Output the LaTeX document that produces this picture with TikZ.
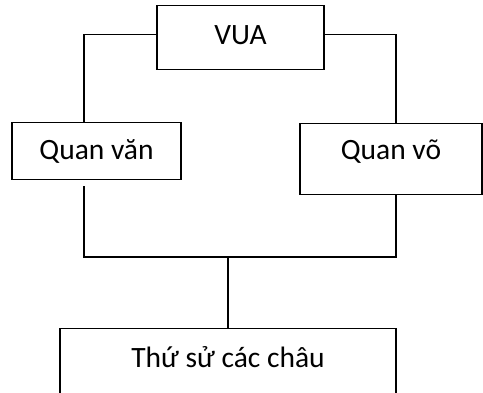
\documentclass[tikz,border=0pt]{standalone}
\usepackage{fontspec}
\setmainfont{Carlito}
\begin{document}
\begin{tikzpicture}[x=1pt,y=-1pt,
  box/.style={draw=black,line width=1.5pt,rectangle,inner xsep=0pt,inner ysep=0pt,anchor=north,
    font=\fontsize{29.5}{35}\selectfont},
  link/.style={draw=black,line width=1.5pt}]
\useasboundingbox (0,0) rectangle (483,393);
\clip (0,0) rectangle (483,393);
\node[box,minimum width=167pt,text height=38.5pt,text depth=25.5pt] (vua) at (240.5,5) {VUA};
\node[box,minimum width=169pt,text height=36.5pt,text depth=20.5pt] (van) at (96.5,122) {Quan văn};
\node[box,minimum width=182pt,text height=35.5pt,text depth=35.5pt] (vo) at (391,123) {Quan võ};
\node[box,minimum width=336pt,text height=38.5pt,text depth=70pt] (chau) at (228,328) {Thứ sử các châu};
\coordinate (j) at ([yshift=71pt]chau.north);
\coordinate (vanlow) at ([xshift=-12.5pt,yshift=-6pt]van.south);
\draw[link] ([yshift=3pt]vua.west) -| ([xshift=-12.5pt]van.north);
\draw[link] ([yshift=3pt]vua.east) -| ([xshift=5pt]vo.north);
\draw[link] (vanlow) |- (j) -| ([xshift=5pt]vo.south);
\draw[link] (j) -- (chau.north);
\end{tikzpicture}
\end{document}
